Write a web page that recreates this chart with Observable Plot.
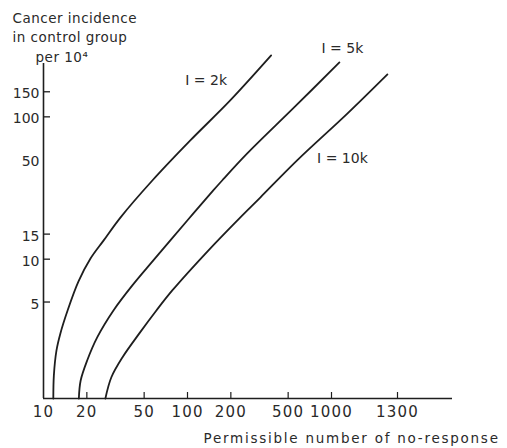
<!DOCTYPE html>
<html>
<head>
<meta charset="utf-8">
<script src="https://cdn.jsdelivr.net/npm/d3@7"></script>
<script src="https://cdn.jsdelivr.net/npm/@observablehq/plot@0.6"></script>
<style>
  html, body { margin: 0; padding: 0; background: #fff; overflow: hidden; }
  #chart { width: 507px; height: 448px; overflow: hidden; }
  svg { font-family: "DejaVu Sans", sans-serif; }
  text[aria-label="x-title"] { letter-spacing: 1.75px; }
  text[aria-label="y-title"] { letter-spacing: 0.5px; }
  text[aria-label="x-labels"] { letter-spacing: 1.2px; }
</style>
</head>
<body>
<div id="chart"></div>
<script>
// ---- data ----
const series = ["I = 2k", "I = 5k", "I = 10k"];

const xA = [11.7, 11.8, 12.3, 13.1, 14.7, 17.5, 21.2, 26.1, 34.2, 57.0, 104.6, 198, 381];
const yA = [1.05, 1.52, 2.28, 3.01, 4.36, 6.98, 10.1, 13.5, 19.6, 35.7, 68.3, 130.4, 270];

const xB = [17.6, 18.1, 20.1, 23.6, 30.6, 41.4, 57.9, 99.7, 151, 174, 260, 550, 1032];
const yB = [1.05, 1.40, 1.94, 2.82, 4.36, 6.54, 9.80, 18.7, 30.4, 35.7, 55.3, 116.4, 241];

const xC = [26.9, 29.6, 35.3, 46.3, 60.8, 78.4, 139.4, 232, 320, 577, 1066, 1249];
const yC = [1.05, 1.48, 2.04, 3.01, 4.36, 6.03, 11.5, 19.6, 27.1, 49.4, 105.7, 198.6];

const xTickValues = [20, 50, 100, 200, 500, 1000, 1300];
const xLabelValues = [10, 20, 50, 100, 200, 500, 1000, 1300];
const xLabels = ["10", "20", "50", "100", "200", "500", "1000", "1300"];

const yTickValues = [5, 10, 15, 100, 150];
const yLabelValues = [5, 10, 15, 50, 100, 150];
const yLabels = ["5", "10", "15", "50", "100", "150"];

const yTitleLine1 = "Cancer incidence";
const yTitleLine2 = "in control group";
const yTitleUnit = "per 10⁴";
const xTitle = "Permissible number of no-response";

// ---- build table ----
const xs = [xA, xB, xC], ys = [yA, yB, yC];
const rows = series.flatMap((s, i) => xs[i].map((x, j) => ({series: s, x, y: ys[i][j]})));
const bySeries = (s) => rows.filter((d) => d.series === s);
const xLabelMap = new Map(xLabelValues.map((v, i) => [v, xLabels[i]]));
const yLabelMap = new Map(yLabelValues.map((v, i) => [v, yLabels[i]]));

const ink = "#1e1e1e";
const textInk = "#2a2a2a";
const tag = (name) => () => name;

const chart = Plot.plot({
  width: 507,
  height: 448,
  marginLeft: 43,
  marginRight: 55,
  marginTop: 63,
  marginBottom: 50,
  style: {background: "#fff", fontFamily: "DejaVu Sans, sans-serif", overflow: "hidden"},
  x: {type: "log", domain: [10, 1000, 1300, 2000], range: [43, 331, 397, 452]},
  y: {type: "log", domain: [1.05, 237], range: [398, 63]},
  marks: [
    // axis lines
    Plot.ruleX([10], {stroke: ink, strokeWidth: 1.6}),
    Plot.ruleY([1.05], {stroke: ink, strokeWidth: 1.6}),
    // inward ticks
    Plot.axisX(xTickValues, {anchor: "bottom", label: null, tickSize: -6, tickFormat: () => "", stroke: ink, strokeWidth: 1.2}),
    Plot.axisY(yTickValues, {anchor: "left", label: null, tickSize: -7, tickFormat: () => "", stroke: ink, strokeWidth: 1.3}),
    // tick labels
    Plot.text(xLabelValues, {x: (d) => d, text: (d) => xLabelMap.get(d), frameAnchor: "bottom", dy: 18,
      fontSize: 15, fill: textInk, ariaLabel: tag("x-labels")}),
    Plot.text(yLabelValues, {y: (d) => d, text: (d) => yLabelMap.get(d), frameAnchor: "left", textAnchor: "end",
      dx: -4, dy: 2, fontSize: 14, fill: textInk}),
    // curves
    Plot.line(rows, {x: "x", y: "y", z: "series", curve: "catmull-rom", stroke: ink, strokeWidth: 1.8}),
    // curve labels
    Plot.text(bySeries(series[0]), Plot.selectLast({x: "x", y: "y", text: "series", dx: -65, dy: 25, fontSize: 14, fill: textInk})),
    Plot.text(bySeries(series[1]), Plot.selectLast({x: "x", y: "y", text: "series", dx: 3, dy: -14, fontSize: 14, fill: textInk})),
    Plot.text(bySeries(series[2]), Plot.selectLast({x: "x", y: "y", text: "series", dx: -45, dy: 84, fontSize: 14, fill: textInk})),
    // axis titles
    Plot.text([yTitleLine1], {text: (d) => d, frameAnchor: "top-left", textAnchor: "start", lineAnchor: "middle",
      dx: -31, dy: -45, fontSize: 13.5, fill: textInk, ariaLabel: tag("y-title")}),
    Plot.text([yTitleLine2], {text: (d) => d, frameAnchor: "top-left", textAnchor: "start", lineAnchor: "middle",
      dx: -31, dy: -26, fontSize: 13.5, fill: textInk, ariaLabel: tag("y-title")}),
    Plot.text([yTitleUnit], {text: (d) => d, frameAnchor: "top-left", textAnchor: "start", lineAnchor: "middle",
      dx: -8, dy: -6, fontSize: 13.5, fill: textInk, ariaLabel: tag("y-title")}),
    Plot.text([xTitle], {text: (d) => d, frameAnchor: "bottom-left", textAnchor: "start", lineAnchor: "middle",
      dx: 160, dy: 40, fontSize: 13.5, fill: textInk, ariaLabel: tag("x-title")})
  ]
});
document.getElementById("chart").append(chart);
</script>
</body>
</html>
